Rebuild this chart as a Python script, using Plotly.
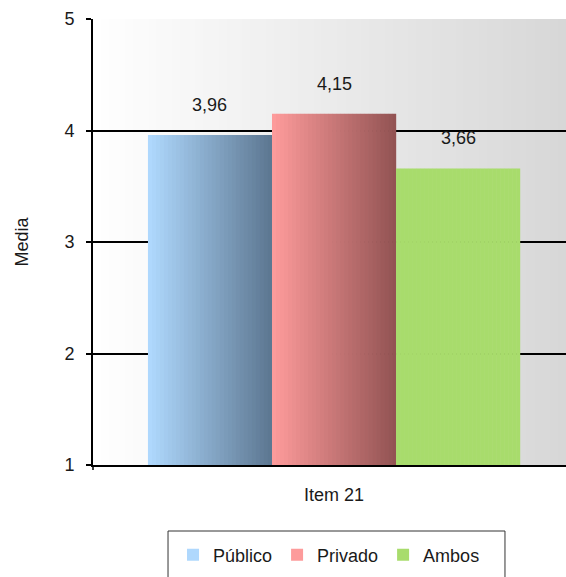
import plotly.graph_objects as go

# Data
category = "Item 21"
series = ["Público", "Privado", "Ambos"]
values = [3.96, 4.15, 3.66]
# colour at the left and right edge of each bar (horizontal gradient)
bar_left_colors = ["#b0daff", "#ff9c9c", "#a8dc6c"]
bar_right_colors = ["#5c7690", "#915252", "#a8dc6c"]
y_ticks = [1, 2, 3, 4, 5]

FONT = "Liberation Sans, Arial, sans-serif"
FONT_SIZE = 18
TEXT_COLOR = "#1a1a1a"
N_STRIPS = 31          # slices per bar used to render the gradient
GROUP_WIDTH = 0.772    # share of the category occupied by the bar group


def hex_to_rgb(h):
    h = h.lstrip("#")
    return tuple(int(h[i:i + 2], 16) for i in (0, 2, 4))


def mix(c1, c2, t):
    a, b = hex_to_rgb(c1), hex_to_rgb(c2)
    return "rgb({},{},{})".format(*[round(a[k] + (b[k] - a[k]) * t) for k in range(3)])


fig = go.Figure()

bar_w = GROUP_WIDTH / len(series)
strip_w = bar_w / N_STRIPS
annotations = []
for i, (name, v) in enumerate(zip(series, values)):
    left = -GROUP_WIDTH / 2 + i * bar_w
    offsets = [left + j * strip_w for j in range(N_STRIPS)]
    colors = [mix(bar_left_colors[i], bar_right_colors[i], (j + 0.5) / N_STRIPS)
              for j in range(N_STRIPS)]
    fig.add_trace(go.Bar(
        name=name,
        x=[category] * N_STRIPS,
        y=[v - y_ticks[0]] * N_STRIPS,
        base=y_ticks[0],
        offset=offsets,
        width=[strip_w * 1.04] * N_STRIPS,
        marker=dict(color=colors, line=dict(width=0)),
        hovertemplate=f"{name}: %{{y:.2f}}<extra></extra>",
    ))
    annotations.append(dict(
        x=left + bar_w / 2, y=v, xref="x", yref="y",
        text=f"{v:.2f}".replace(".", ","),
        showarrow=False, yanchor="middle", yshift=30,
        font=dict(family=FONT, size=FONT_SIZE, color=TEXT_COLOR),
    ))

# plot-area background: grey gradient from left to right
shapes = []
n_bg = 60
for k in range(n_bg):
    t = (k + 0.5) / n_bg
    g = round(255 - 40 * t)
    shapes.append(dict(
        type="rect", xref="paper", yref="paper",
        x0=k / n_bg, x1=(k + 1) / n_bg + 0.002, y0=0, y1=1,
        fillcolor=f"rgb({g},{g},{g})", line=dict(width=0), layer="below",
    ))

# small tick below the origin of the category axis
shapes.append(dict(
    type="line", xref="paper", yref="paper", ysizemode="pixel", yanchor=0,
    x0=0, x1=0, y0=0, y1=-5, line=dict(color="black", width=1.5),
))
# legend frame
shapes.append(dict(
    type="rect", xref="paper", yref="paper",
    x0=0.1586, x1=0.871, y0=-0.148, y1=-0.27,
    line=dict(color="#333333", width=1), fillcolor="rgba(0,0,0,0)",
))

fig.update_layout(
    width=566, height=577,
    margin=dict(l=93, r=0, t=19, b=112),
    paper_bgcolor="white",
    plot_bgcolor="rgba(0,0,0,0)",
    barmode="overlay",
    separators=",.",
    font=dict(family=FONT, size=FONT_SIZE, color=TEXT_COLOR),
    showlegend=True,
    legend=dict(
        orientation="h", x=0.499, xanchor="center", y=-0.202, yanchor="middle",
        font=dict(family=FONT, size=FONT_SIZE, color=TEXT_COLOR),
        itemwidth=30, bgcolor="rgba(0,0,0,0)", borderwidth=0,
        itemclick=False, itemdoubleclick=False,
    ),
    xaxis=dict(
        type="category",
        range=[-0.5, 0.4813],
        showgrid=False, zeroline=False,
        showline=True, linecolor="black", linewidth=2,
        ticks="", ticklabelstandoff=12,
        tickfont=dict(family=FONT, size=FONT_SIZE, color=TEXT_COLOR),
        fixedrange=True,
    ),
    yaxis=dict(
        range=[y_ticks[0], y_ticks[-1]],
        tickvals=y_ticks,
        showgrid=True, gridcolor="black", gridwidth=2,
        zeroline=False,
        showline=True, linecolor="black", linewidth=2,
        ticks="outside", ticklen=5, tickwidth=1.5, tickcolor="black",
        ticklabelstandoff=8,
        tickfont=dict(family=FONT, size=FONT_SIZE, color=TEXT_COLOR),
        title=dict(text="Media", standoff=31,
                   font=dict(family=FONT, size=FONT_SIZE, color=TEXT_COLOR)),
        fixedrange=True,
    ),
    shapes=shapes,
    annotations=annotations,
)

fig.write_html("out.html")
